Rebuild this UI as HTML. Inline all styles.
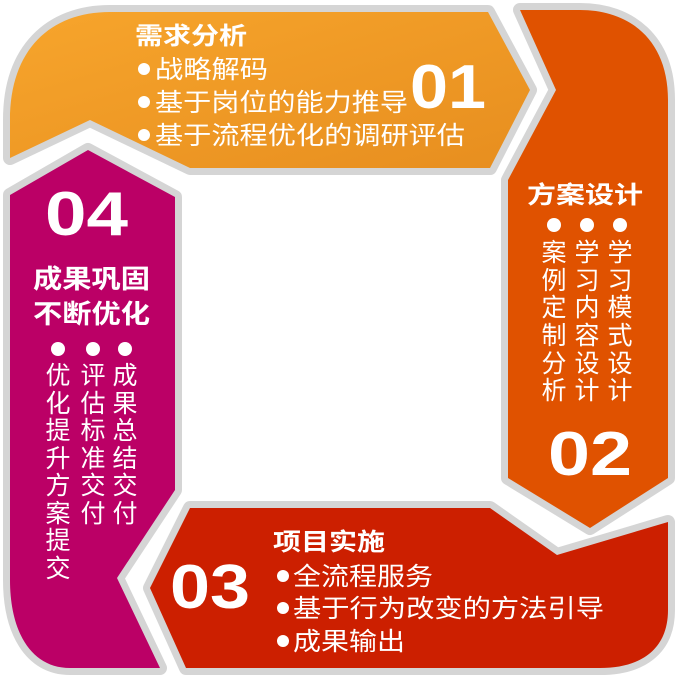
<!DOCTYPE html>
<html><head><meta charset="utf-8"><style>
html,body{margin:0;padding:0;background:#fff;}
svg{display:block;}
text{font-family:"Liberation Sans","Noto Sans CJK SC",sans-serif;fill:#fff;}
.b{font-weight:bold;}
</style></head><body>
<svg width="677" height="678" viewBox="0 0 677 678" xmlns="http://www.w3.org/2000/svg">
<defs>
<linearGradient id="g1" x1="0" y1="0" x2="1" y2="1">
<stop offset="0" stop-color="#F7A52C"/><stop offset="1" stop-color="#E78E1F"/>
</linearGradient>
</defs>
<g stroke="#d5d5d5" stroke-width="14" stroke-linejoin="round" paint-order="stroke">
<path d="M10,158 L10,120 C10,50 50,12 110,12 L488,12 L530,90 L490,168 L190,168 L90,120 Z" fill="url(#g1)"/>
<path d="M520,10 L556,90 L508,180 L508,478 L590,528 L668,478 L668,100 C668,40 630,10 580,10 Z" fill="#E05200"/>
<path d="M190,508 L490,508 L557,555 L668,522 L668,610 C668,650 640,668 600,668 L186,668 L150,588 Z" fill="#CC1F00"/>
<path d="M88,150 L175,197 L175,490 L117,578 L160,668 L70,668 C30,668 10,630 10,580 L10,195 Z" fill="#BB0066"/>
</g>
<g fill="#fff">
<circle cx="144" cy="69" r="6"/><circle cx="144" cy="102" r="6"/><circle cx="144" cy="135" r="6"/>
<circle cx="283" cy="576" r="6"/><circle cx="283" cy="608" r="6"/><circle cx="283" cy="641" r="6"/>
<circle cx="554" cy="225" r="7"/><circle cx="587" cy="225" r="7"/><circle cx="620" cy="225" r="7"/>
<circle cx="58" cy="349" r="7"/><circle cx="93" cy="349" r="7"/><circle cx="125" cy="349" r="7"/>
</g>
<!-- 1 -->
<text class="b" x="135" y="44" font-size="24" textLength="112" lengthAdjust="spacingAndGlyphs">需求分析</text>
<text x="155" y="78" font-size="25" textLength="113" lengthAdjust="spacingAndGlyphs">战略解码</text>
<text x="155" y="111" font-size="25" textLength="253" lengthAdjust="spacingAndGlyphs">基于岗位的能力推导</text>
<text x="155" y="144" font-size="25" textLength="310" lengthAdjust="spacingAndGlyphs">基于流程优化的调研评估</text>
<text class="b" x="410" y="108" font-size="62" textLength="76" lengthAdjust="spacingAndGlyphs">01</text>
<!-- 2 -->
<text class="b" x="527" y="203" font-size="24" textLength="116" lengthAdjust="spacingAndGlyphs">方案设计</text>
<g font-size="25" text-anchor="middle">
<text x="554" y="261">案</text><text x="554" y="289">例</text><text x="554" y="316">定</text><text x="554" y="344">制</text><text x="554" y="372">分</text><text x="554" y="399">析</text>
<text x="587" y="261">学</text><text x="587" y="289">习</text><text x="587" y="316">内</text><text x="587" y="344">容</text><text x="587" y="372">设</text><text x="587" y="399">计</text>
<text x="620" y="261">学</text><text x="620" y="289">习</text><text x="620" y="316">模</text><text x="620" y="344">式</text><text x="620" y="372">设</text><text x="620" y="399">计</text>
</g>
<text class="b" x="548" y="475" font-size="62" textLength="84" lengthAdjust="spacingAndGlyphs">02</text>
<!-- 3 -->
<text class="b" x="273" y="550" font-size="24" textLength="112" lengthAdjust="spacingAndGlyphs">项目实施</text>
<text x="293" y="585" font-size="25" textLength="140" lengthAdjust="spacingAndGlyphs">全流程服务</text>
<text x="293" y="617" font-size="25" textLength="311" lengthAdjust="spacingAndGlyphs">基于行为改变的方法引导</text>
<text x="293" y="650" font-size="25" textLength="112" lengthAdjust="spacingAndGlyphs">成果输出</text>
<text class="b" x="170" y="608" font-size="62" textLength="80" lengthAdjust="spacingAndGlyphs">03</text>
<!-- 4 -->
<text class="b" x="45" y="235" font-size="62" textLength="83" lengthAdjust="spacingAndGlyphs">04</text>
<text class="b" x="33" y="288" font-size="26" textLength="117" lengthAdjust="spacingAndGlyphs">成果巩固</text>
<text class="b" x="33" y="323" font-size="26" textLength="117" lengthAdjust="spacingAndGlyphs">不断优化</text>
<g font-size="25" text-anchor="middle">
<text x="58" y="384">优</text><text x="58" y="412">化</text><text x="58" y="439">提</text><text x="58" y="467">升</text><text x="58" y="494">方</text><text x="58" y="522">案</text><text x="58" y="549">提</text><text x="58" y="577">交</text>
<text x="93" y="384">评</text><text x="93" y="412">估</text><text x="93" y="439">标</text><text x="93" y="467">准</text><text x="93" y="494">交</text><text x="93" y="522">付</text>
<text x="125" y="384">成</text><text x="125" y="412">果</text><text x="125" y="439">总</text><text x="125" y="467">结</text><text x="125" y="494">交</text><text x="125" y="522">付</text>
</g>
</svg>
</body></html>
